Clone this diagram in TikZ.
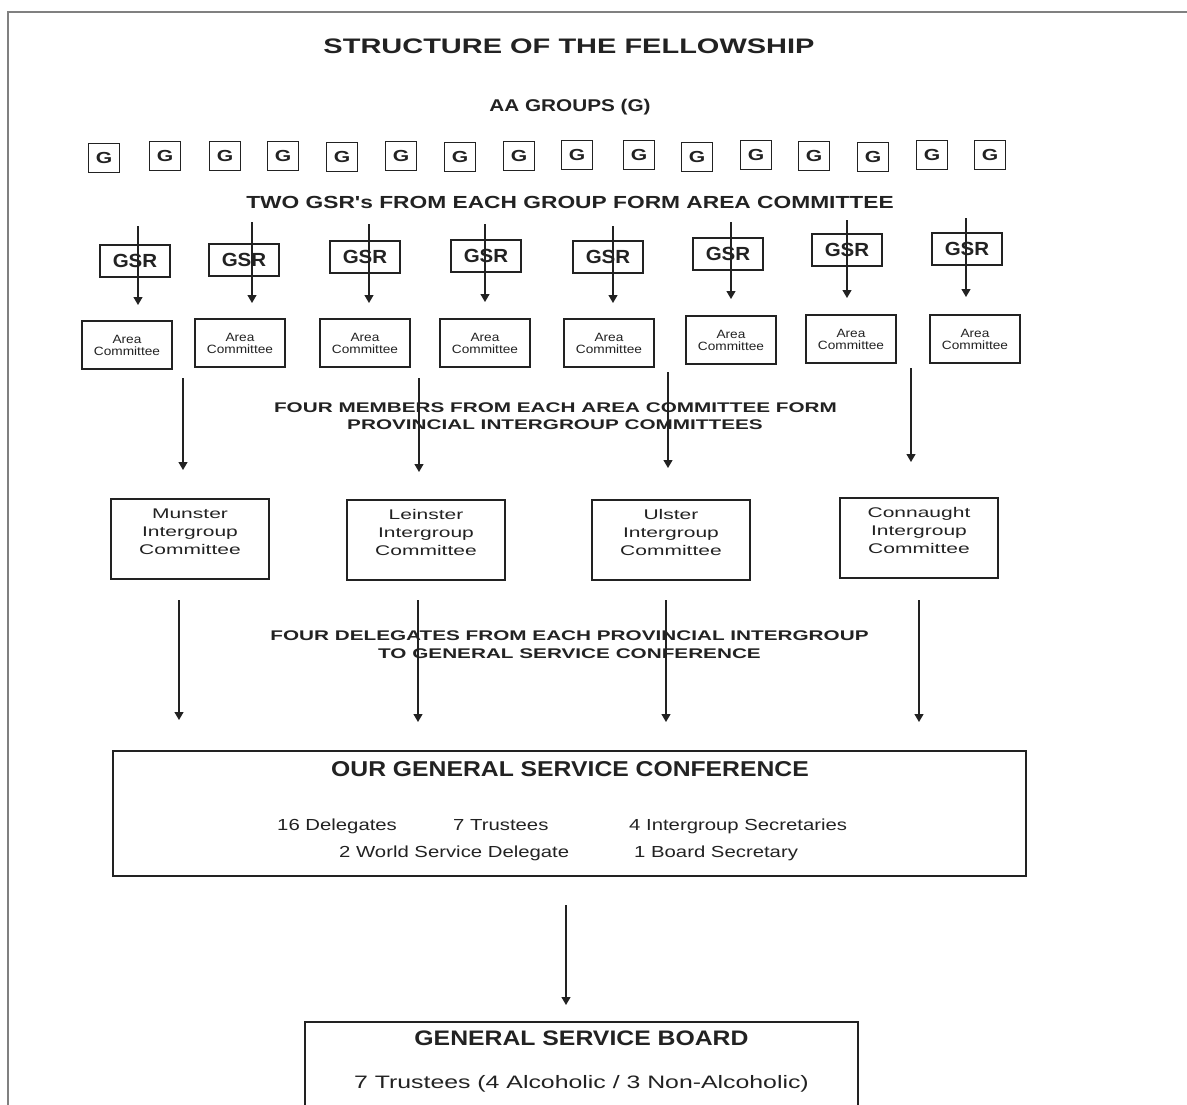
\documentclass[tikz,border=0pt]{standalone}
\usepackage{fontspec}
\setmainfont{Liberation Sans}
\newfontfamily\fTitle{Liberation Sans}[FakeStretch=1.38]
\newfontfamily\fAA{Liberation Sans}[FakeStretch=1.22]
\newfontfamily\fG{Liberation Sans}[FakeStretch=1.32]
\newfontfamily\fTwo{Liberation Sans}[FakeStretch=1.3]
\newfontfamily\fGSR{Liberation Sans}[FakeStretch=1.08]
\newfontfamily\fArea{Liberation Sans}[FakeStretch=1.14]
\newfontfamily\fWide{Liberation Sans}[FakeStretch=1.48]
\newfontfamily\fIG{Liberation Sans}[FakeStretch=1.5]
\newfontfamily\fConf{Liberation Sans}[FakeStretch=1.15]
\newfontfamily\fItem{Liberation Sans}[FakeStretch=1.27]
\newfontfamily\fBoard{Liberation Sans}[FakeStretch=1.18]
\newfontfamily\fBItem{Liberation Sans}[FakeStretch=1.38]
\usetikzlibrary{arrows.meta}
\definecolor{ink}{HTML}{222222}
\tikzset{
  box/.style={draw=ink, line width=1.6pt, inner sep=0pt, text=ink},
  gbox/.style={box, minimum width=31, minimum height=29, font=\fG\bfseries\fontsize{16}{16}\selectfont},
  gsrbox/.style={box, minimum width=70, minimum height=32, font=\fGSR\bfseries\fontsize{19}{19}\selectfont},
  areabox/.style={box, line width=1.4pt, minimum width=90, minimum height=48, align=center, font=\fArea\fontsize{12}{12}\selectfont},
  igbox/.style={box, minimum width=158, minimum height=80},
  txt/.style={text=ink, inner sep=0pt, anchor=base},
  igtext/.style={txt, font=\fIG\fontsize{14}{14}\selectfont},
  wide/.style={txt, font=\fWide\bfseries\fontsize{14}{14}\selectfont},
  item/.style={txt, anchor=base west, font=\fItem\fontsize{16}{16}\selectfont},
  arr/.style={draw=ink, line width=1.2pt, -{Triangle[width=9pt,length=8pt]}},
}
\begin{document}
\begin{tikzpicture}[x=1pt,y=-1pt]
\useasboundingbox (0,0) rectangle (1187,1104);
\draw[gray, line width=2pt] (1187,12) -- (8,12) -- (8,1110);
\node[txt, font=\fTitle\bfseries\fontsize{21}{21}\selectfont] (title) at (569,53) {STRUCTURE OF THE FELLOWSHIP};
\node[txt, font=\fAA\bfseries\fontsize{17}{17}\selectfont] (aag) at (570,111) {AA GROUPS (G)};
\foreach \x/\y [count=\i] in {104/158,165/156,225/156,283/156,342/157,401/156,460/157,519/156,577/155,639/155,697/157,756/155,814/156,873/157,932/155,990/155}
  \node[gbox] (g\i) at (\x,\y) {G};
\node[txt, font=\fTwo\bfseries\fontsize{17.5}{17.5}\selectfont] (twogsr) at (570,208) {TWO GSR's FROM EACH GROUP FORM AREA COMMITTEE};
% GSR boxes
\foreach \x/\y [count=\i] in {135/261,244/260,365/257,486/256,608/257,728/254,847/250,967/249}
  \node[gsrbox] (gsr\i) at (\x,\y) {GSR};
% Area committees
\foreach \x/\y [count=\i] in {127/345,240/343,365/343,485/343,609/343,731/340,851/339,975/339}
  \node[areabox] (ac\i) at (\x,\y) {Area\\Committee};
% GSR -> area arrows
\foreach \x/\ys/\ye [count=\i] in {138/226/305,252/222/303,369/224/303,485/224/302,613/226/303,731/222/299,847/220/298,966/218/297}{
  \coordinate (gs\i) at (\x,\ys);
  \coordinate (ge\i) at (\x,\ye);
  \draw[arr] (gs\i) -- (ge\i);
}
\node[wide] (fm1) at (555.5,412) {FOUR MEMBERS FROM EACH AREA COMMITTEE FORM};
\node[wide] (fm2) at (555,429) {PROVINCIAL INTERGROUP COMMITTEES};
% area -> intergroup arrows
\foreach \x/\ys/\ye [count=\i] in {183/378/470,419/378/472,668/372/468,911/368/462}{
  \coordinate (as\i) at (\x,\ys);
  \coordinate (ae\i) at (\x,\ye);
  \draw[arr] (as\i) -- (ae\i);
}
% intergroup boxes
\node[igbox] (mun) at (190,539) {};
\node[igbox] (lei) at (426,540) {};
\node[igbox] (uls) at (671,540) {};
\node[igbox] (con) at (919,538) {};
\foreach \b/\nm in {mun/Munster,lei/Leinster,uls/Ulster,con/Connaught}{
  \node[igtext] (\b-1) at ([yshift=-20pt]\b.north) {\nm};
  \node[igtext] (\b-2) at ([yshift=-38pt]\b.north) {Intergroup};
  \node[igtext] (\b-3) at ([yshift=-56pt]\b.north) {Committee};
}
% intergroup -> conference arrows
\foreach \x/\ye [count=\i] in {179/720,418/722,666/722,919/722}{
  \coordinate (is\i) at (\x,600);
  \coordinate (ie\i) at (\x,\ye);
  \draw[arr] (is\i) -- (ie\i);
}
\node[wide] (fd1) at (569.5,640.5) {FOUR DELEGATES FROM EACH PROVINCIAL INTERGROUP};
\node[wide] (fd2) at (569.5,658) {TO GENERAL SERVICE CONFERENCE};
% conference
\node[box, minimum width=913, minimum height=125] (conf) at (569.5,813.5) {};
\node[txt, font=\fConf\bfseries\fontsize{21.5}{21.5}\selectfont] (conft) at (570,776) {OUR GENERAL SERVICE CONFERENCE};
\node[item] (i1) at (277,830) {16 Delegates};
\node[item] (i2) at (453,830) {7 Trustees};
\node[item] (i3) at (629,830) {4 Intergroup Secretaries};
\node[item] (i4) at (339,857) {2 World Service Delegate};
\node[item] (i5) at (634,857) {1 Board Secretary};
% conference -> board
\coordinate (cs) at (566,905);
\coordinate (ce) at (566,1005);
\draw[arr] (cs) -- (ce);
% board (cut by page edge)
\node[box, minimum width=553, minimum height=100, anchor=north] (gsb) at (581.5,1021) {};
\node[txt, font=\fBoard\bfseries\fontsize{21}{21}\selectfont] (gsbt) at (581.5,1045.5) {GENERAL SERVICE BOARD};
\node[txt, font=\fBItem\fontsize{18}{18}\selectfont] (gsbi) at (581.5,1088) {7 Trustees (4 Alcoholic / 3 Non-Alcoholic)};
\end{tikzpicture}
\end{document}
